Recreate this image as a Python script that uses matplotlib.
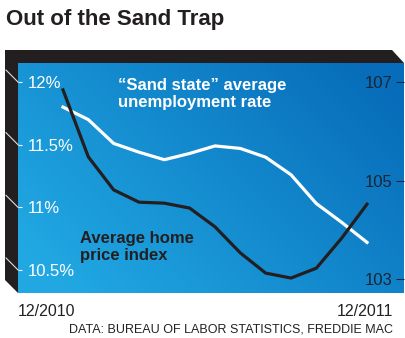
import matplotlib
matplotlib.use("Agg")
import matplotlib.pyplot as plt
import numpy as np
from matplotlib.patches import Polygon
from matplotlib.lines import Line2D

plt.rcParams['font.family'] = ['Liberation Sans', 'DejaVu Sans']

# monthly values, 12/2010 .. 12/2011
months = list(range(13))
unemployment = [11.80, 11.70, 11.51, 11.44, 11.38, 11.43, 11.49, 11.47, 11.40, 11.26, 11.03, 10.88, 10.72]
home_price = [106.84, 105.48, 104.81, 104.56, 104.54, 104.44, 104.06, 103.53, 103.12, 103.02, 103.22, 103.83, 104.52]

left_ticks = [12.0, 11.5, 11.0, 10.5]
left_labels = ['12%', '11.5%', '11%', '10.5%']
right_ticks = [107, 105, 103]
right_labels = ['107', '105', '103']

W, H = 405, 338
fig = plt.figure(figsize=(W / 100, H / 100), dpi=100)
fig.patch.set_facecolor('white')

def box(x0, y0, x1, y1):
    # pixel box (top-left origin) -> figure fraction rect
    return [x0 / W, 1 - y1 / H, (x1 - x0) / W, (y1 - y0) / H]

dark = '#231f20'

# 3D-looking dark frame (top and left faces)
frame = [(5, 50), (392, 50), (404, 63), (18, 63), (18, 293), (5, 280)]
fig.add_artist(Polygon([(x / W, 1 - y / H) for x, y in frame], closed=True,
                       facecolor=dark, edgecolor='none', transform=fig.transFigure))

ax = fig.add_axes(box(18, 63, 404, 293))
ax2 = ax.twinx()

# blue gradient background
gx, gy = np.meshgrid(np.linspace(0, 1, 200), np.linspace(1, 0, 200))
t = np.clip(0.75 * gx + 0.45 * gy - 0.1, 0, 1)
c0 = np.array([0.13, 0.66, 0.89])
c1 = np.array([0.03, 0.43, 0.73])
img = c0[None, None, :] * (1 - t[..., None]) + c1[None, None, :] * t[..., None]
ax.imshow(img, extent=[0, 1, 0, 1], transform=ax.transAxes, aspect='auto', zorder=0)

ax.plot(months, unemployment, color='white', lw=2.3, zorder=3)
ax2.plot(months, home_price, color=dark, lw=2.3, zorder=3)

ax.set_xlim(-1.776, 13.46)
ax.set_ylim(10.316, 12.152)
ax2.set_ylim(102.716, 107.386)

for a in (ax, ax2):
    for s in a.spines.values():
        s.set_visible(False)
ax.set_xticks([])

ax.set_yticks(left_ticks)
ax.set_yticklabels(left_labels)
ax.tick_params(axis='y', direction='in', length=3, width=0.8, color='white',
               pad=-7, labelsize=12, labelcolor='white')
for lbl in ax.get_yticklabels():
    lbl.set_ha('left')

ax2.set_yticks(right_ticks)
ax2.set_yticklabels(right_labels)
ax2.tick_params(axis='y', direction='in', length=6, width=0.8, color='#1a2533',
                pad=-8, labelsize=12, labelcolor='#1a2533')
for lbl in ax2.get_yticklabels():
    lbl.set_ha('right')

# perspective lines on the left face
fig.canvas.draw()
for v in left_ticks:
    x0, y0 = ax.transData.transform((ax.get_xlim()[0], v))
    fig.add_artist(Line2D([x0 - 12, x0], [y0 + 12, y0], transform=None,
                          color='#dddddd', lw=0.8))

ax.text(0.258, 0.865, '\u201cSand state\u201d average\nunemployment rate',
        transform=ax.transAxes, color='white', fontsize=12, fontweight='bold',
        va='center', ha='left', linespacing=1.15, zorder=4)
ax.text(0.16, 0.2, 'Average home\nprice index',
        transform=ax.transAxes, color=dark, fontsize=12, fontweight='bold',
        va='center', ha='left', linespacing=1.1, zorder=4)

fig.text(6 / W, 1 - 20 / H, 'Out of the Sand Trap', fontsize=16,
         fontweight='bold', color=dark, va='center', ha='left')
fig.text(18 / W, 1 - 312 / H, '12/2010', fontsize=11.5, color='#222222',
         va='center', ha='left')
fig.text(393 / W, 1 - 312 / H, '12/2011', fontsize=11.5, color='#222222',
         va='center', ha='right')
fig.text(393 / W, 1 - 329 / H, 'DATA: BUREAU OF LABOR STATISTICS, FREDDIE MAC',
         fontsize=9, color='#222222', va='center', ha='right')

fig.savefig('out.png', dpi=100)
